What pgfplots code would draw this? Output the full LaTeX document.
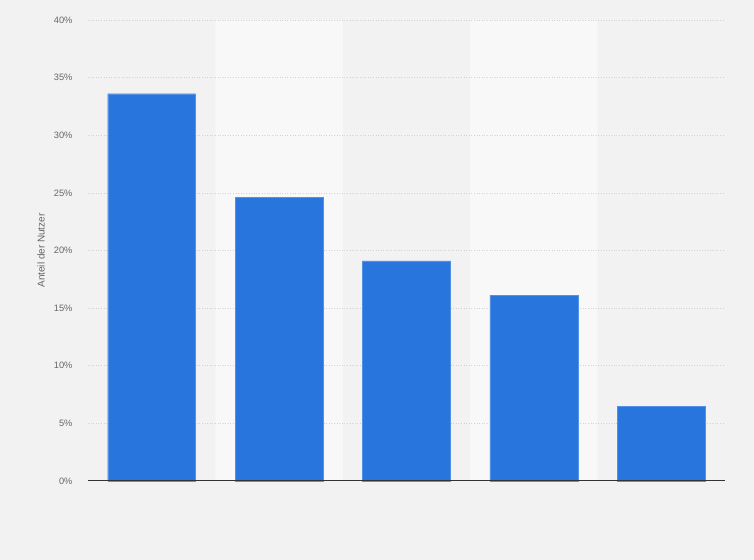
\documentclass[border=0pt]{standalone}
\usepackage{pgfplots}
\pgfplotsset{compat=1.18}
\usepackage{fontspec}
\setmainfont{Liberation Sans}
\definecolor{bg}{HTML}{F2F2F2}
\definecolor{band}{HTML}{F8F8F8}
\definecolor{barblue}{HTML}{2876DD}
\definecolor{ticktxt}{HTML}{666666}
\definecolor{gridc}{HTML}{D2D2D2}
\begin{document}
\begin{tikzpicture}[x=1bp,y=1bp]
  \fill[bg] (0,0) rectangle (754,560);
  \begin{axis}[
    at={(88bp,79bp)}, anchor=south west,
    scale only axis,
    width=637bp, height=461bp,
    xmin=-0.5, xmax=4.5,
    ymin=0, ymax=40,
    axis line style={draw=none},
    major tick length=0pt,
    ytick={0,5,...,40},
    xtick=\empty,
    yticklabel={\pgfmathprintnumber{\tick}\%},
    /pgf/number format/assume math mode=true,
    tick label style={font=\fontsize{9.3}{10}\selectfont, text=ticktxt},
    yticklabel style={xshift=-12bp},
    ylabel={Anteil der Nutzer},
    ylabel style={font=\fontsize{10}{11}\selectfont, text=ticktxt,
      at={(rel axis cs:0,0.5)}, yshift=47bp, anchor=center},
    clip=false,
  ]
    % alternating column bands
    \addplot[ybar, bar width=1, fill=band, draw=none, bar shift=0] coordinates {(1,40) (3,40)};
    % horizontal grid lines
    \pgfplotsinvokeforeach{5,10,...,40}{
      \addplot[gridc, dotted, line width=0.6pt, mark=none] coordinates {(-0.5,#1) (4.5,#1)};
    }
    % bars
    \addplot[ybar, bar width=0.69, fill=barblue, draw=barblue!80!white, line width=0.4pt, bar shift=0]
      coordinates {(0,33.6) (1,24.6) (2,19.1) (3,16.1) (4,6.5)};
    % zero line
    \addplot[black!80, line width=1pt, mark=none] coordinates {(-0.5,0) (4.5,0)};
  \end{axis}
\end{tikzpicture}
\end{document}
